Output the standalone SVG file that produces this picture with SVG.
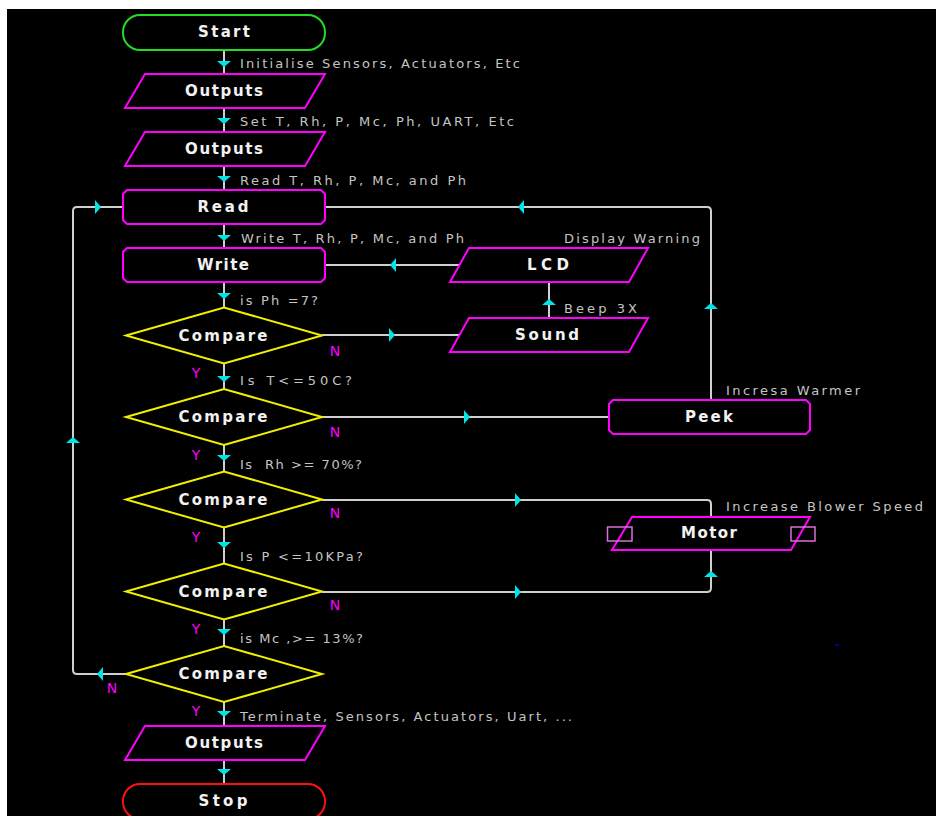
<svg xmlns="http://www.w3.org/2000/svg" width="936" height="816" viewBox="0 0 936 816">
<style>
.bg{fill:#000}
.io{fill:none;stroke:#ff00ff;stroke-width:2}
.dec{fill:none;stroke:#f0f000;stroke-width:2}
.nt{font-family:"DejaVu Sans","Liberation Sans",Arial,sans-serif;font-weight:bold;font-size:15px;fill:#f2f2f2;text-anchor:middle}
.lb{font-family:"DejaVu Sans","Liberation Sans",Arial,sans-serif;font-size:13px;fill:#c4c4c4}
.yn{font-family:"DejaVu Sans","Liberation Sans",Arial,sans-serif;font-size:14px;fill:#ff00ff;text-anchor:middle}
.ln{fill:none;stroke:#cfcfcf;stroke-width:2}
.ah{fill:#00e5e5}
.sq{fill:none;stroke:#d870d8;stroke-width:1.5}
</style>
<rect x="0" y="0" width="936" height="816" fill="#fff"/>
<rect class="bg" x="7" y="9" width="929" height="807"/>

<g id="connectors">
<path class="ln" d="M224,50V74M224,108V132M224,166V190M224,224V248M224,282V308M224,363V389M224,445V472M224,527V564M224,619V646M224,702V726M224,760V784"/>
<path class="ln" d="M711,400V211Q711,207 707,207H325"/>
<path class="ln" d="M322,500H707Q711,500 711,504V517"/>
<path class="ln" d="M322,592H707Q711,592 711,588V550"/>
<path class="ln" d="M126,674H77Q73,674 73,670V211Q73,207 77,207H123"/>
<path class="ln" d="M322,335H459"/>
<path class="ln" d="M459,265H325"/>
<path class="ln" d="M322,417H609"/>
<path class="ln" d="M549,318V282"/>
<g class="ah">
<polygon points="217,61 231,61 224,67"/>
<polygon points="217,118 231,118 224,124"/>
<polygon points="217,176 231,176 224,182"/>
<polygon points="217,235 231,235 224,241"/>
<polygon points="217,293 231,293 224,299"/>
<polygon points="217,376 231,376 224,382"/>
<polygon points="217,455 231,455 224,461"/>
<polygon points="217,542 231,542 224,548"/>
<polygon points="217,629 231,629 224,635"/>
<polygon points="217,711 231,711 224,717"/>
<polygon points="217,769 231,769 224,775"/>
<polygon points="389,328 389,342 395,335"/>
<polygon points="464,410 464,424 470,417"/>
<polygon points="515,493 515,507 521,500"/>
<polygon points="515,585 515,599 521,592"/>
<polygon points="95,200 95,214 101,207"/>
<polygon points="396,258 396,272 390,265"/>
<polygon points="524,200 524,214 518,207"/>
<polygon points="103,667 103,681 97,674"/>
<polygon points="542,305 556,305 549,299"/>
<polygon points="704,309 718,309 711,303"/>
<polygon points="704,577 718,577 711,571"/>
<polygon points="66,443 80,443 73,437"/>
</g>
</g>

<g id="start"><rect x="123" y="15" width="202" height="35" rx="17" fill="none" stroke="#22dd22" stroke-width="2"/><text class="nt" x="224" y="37" textLength="52" lengthAdjust="spacing">Start</text></g>
<g id="outputs1"><polygon class="io" points="145,74 325,74 305,108 125,108"/><text class="nt" x="224" y="96" textLength="78" lengthAdjust="spacing">Outputs</text></g>
<g id="outputs2"><polygon class="io" points="145,132 325,132 305,166 125,166"/><text class="nt" x="224" y="154" textLength="78" lengthAdjust="spacing">Outputs</text></g>
<g id="read"><path class="io" d="M127,190H321L325,194V220L321,224H127L123,220V194Z"/><text class="nt" x="223" y="212" textLength="51" lengthAdjust="spacing">Read</text></g>
<g id="write"><path class="io" d="M127,248H321L325,252V278L321,282H127L123,278V252Z"/><text class="nt" x="223" y="270" textLength="52" lengthAdjust="spacing">Write</text></g>
<g id="compare1"><polygon class="dec" points="126,335.5 224,307.5 322,335.5 224,363.5"/><text class="nt" x="223" y="341" textLength="89" lengthAdjust="spacing">Compare</text></g>
<g id="compare2"><polygon class="dec" points="126,417 224,389 322,417 224,445"/><text class="nt" x="223" y="422" textLength="89" lengthAdjust="spacing">Compare</text></g>
<g id="compare3"><polygon class="dec" points="126,499.5 224,471.5 322,499.5 224,527.5"/><text class="nt" x="223" y="505" textLength="89" lengthAdjust="spacing">Compare</text></g>
<g id="compare4"><polygon class="dec" points="126,591.5 224,563.5 322,591.5 224,619.5"/><text class="nt" x="223" y="597" textLength="89" lengthAdjust="spacing">Compare</text></g>
<g id="compare5"><polygon class="dec" points="126,674 224,646 322,674 224,702"/><text class="nt" x="223" y="679" textLength="89" lengthAdjust="spacing">Compare</text></g>
<g id="outputs3"><polygon class="io" points="145,726 325,726 305,760 125,760"/><text class="nt" x="224" y="748" textLength="78" lengthAdjust="spacing">Outputs</text></g>
<g id="stop"><rect x="123" y="784" width="202" height="35" rx="17" fill="none" stroke="#ff1010" stroke-width="2"/><text class="nt" x="223" y="806" textLength="49" lengthAdjust="spacing">Stop</text></g>
<g id="lcd"><polygon class="io" points="469,248 648,248 629,282 450,282"/><text class="nt" x="548" y="270" textLength="42" lengthAdjust="spacing">LCD</text></g>
<g id="sound"><polygon class="io" points="469,318 648,318 629,352 450,352"/><text class="nt" x="547" y="340" textLength="64" lengthAdjust="spacing">Sound</text></g>
<g id="peek"><path class="io" d="M613,400H806L810,404V430L806,434H613L609,430V404Z"/><text class="nt" x="709" y="422" textLength="48" lengthAdjust="spacing">Peek</text></g>
<g id="motor"><polygon class="io" points="632,517 810,517 791,550 612,550"/><rect class="sq" x="607.5" y="527" width="24.5" height="14"/><rect class="sq" x="791" y="527" width="24" height="14"/><text class="nt" x="709" y="538" textLength="56" lengthAdjust="spacing">Motor</text></g>

<g id="labels">
<text class="lb" x="240" y="68" textLength="280" lengthAdjust="spacing">Initialise Sensors, Actuators, Etc</text>
<text class="lb" x="240" y="126" textLength="274" lengthAdjust="spacing">Set T, Rh, P, Mc, Ph, UART, Etc</text>
<text class="lb" x="240" y="185" textLength="226" lengthAdjust="spacing">Read T, Rh, P, Mc, and Ph</text>
<text class="lb" x="241" y="243" textLength="223" lengthAdjust="spacing">Write T, Rh, P, Mc, and Ph</text>
<text class="lb" x="240" y="305" textLength="78" lengthAdjust="spacing">is Ph =7?</text>
<text class="lb" x="240" y="385" textLength="112" lengthAdjust="spacing">Is T&lt;=50C?</text>
<text class="lb" x="240" y="469" textLength="122" lengthAdjust="spacing" xml:space="preserve">Is  Rh &gt;= 70%?</text>
<text class="lb" x="240" y="561" textLength="123" lengthAdjust="spacing">Is P &lt;=10KPa?</text>
<text class="lb" x="240" y="643" textLength="123" lengthAdjust="spacing">is Mc ,&gt;= 13%?</text>
<text class="lb" x="240" y="721" textLength="332" lengthAdjust="spacing">Terminate, Sensors, Actuators, Uart, ...</text>
<text class="lb" x="564" y="243" textLength="136" lengthAdjust="spacing">Display Warning</text>
<text class="lb" x="564" y="313" textLength="73" lengthAdjust="spacing">Beep 3X</text>
<text class="lb" x="726" y="395" textLength="134" lengthAdjust="spacing">Incresa Warmer</text>
<text class="lb" x="726" y="511" textLength="197" lengthAdjust="spacing">Increase Blower Speed</text>
</g>

<g id="yn">
<text class="yn" x="335" y="356">N</text>
<text class="yn" x="196" y="378">Y</text>
<text class="yn" x="335" y="437">N</text>
<text class="yn" x="196" y="460">Y</text>
<text class="yn" x="335" y="518">N</text>
<text class="yn" x="196" y="542">Y</text>
<text class="yn" x="335" y="610">N</text>
<text class="yn" x="196" y="634">Y</text>
<text class="yn" x="112" y="693">N</text>
<text class="yn" x="196" y="716">Y</text>
</g>
<rect x="835" y="644" width="4" height="2" fill="#000090"/>
</svg>
